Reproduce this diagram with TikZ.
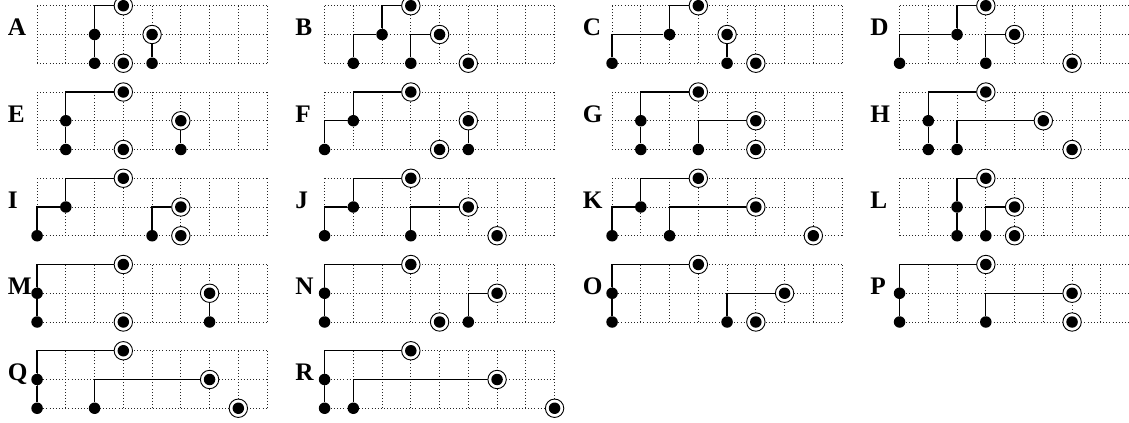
\documentclass[tikz,border=0pt]{standalone}
\usepackage{fontspec}
\setmainfont{Liberation Serif}
\usepackage{tikz}
\newcommand{\Gr}[1]{\draw[gridline] (0,0) grid (8,2);
        \node[lab] (lab#1) at (-1.03,0.95) {#1};}

\begin{document}
\begin{tikzpicture}[x=0.5cm,y=0.5cm,
        gridline/.style={dash pattern=on 0.45pt off 1.1pt,black!85,line width=0.45pt,step=0.5cm},
        lab/.style={anchor=base west,inner sep=0pt,font=\fontsize{12.5}{14}\selectfont\bfseries},
        knot/.style={circle,fill,inner sep=0pt,minimum size=0.2cm},
        leaf/.style={circle,draw,fill=white,inner sep=0pt,minimum size=0.32cm,line width=0.45pt,
            path picture={\fill[black] (path picture bounding box.center) circle (0.1cm);}},
        link/.style={semithick}]
        \useasboundingbox (-1.29,-12.51) rectangle (37.98,2.2);
        % row 1
        \begin{scope}
        \Gr{A}
        \node[knot] (a1) at (2,0) {};
        \node[knot] (a2) at (2,1) {};
        \node[leaf] (a3) at (3,2) {};
        \node[leaf] (a4) at (3,0) {};
        \node[knot] (a5) at (4,0) {};
        \node[leaf] (a6) at (4,1) {};
        \draw[link] (a1) -- (a2);
        \draw[link] (a2) |- (a3);
        \draw[link] (a5) -- (a6);
        \end{scope}
        \begin{scope}[shift={(10,0)}]
        \Gr{B}
        \node[knot] (b1) at (1,0) {};
        \node[knot] (b2) at (2,1) {};
        \node[leaf] (b3) at (3,2) {};
        \node[knot] (b4) at (3,0) {};
        \node[leaf] (b5) at (4,1) {};
        \node[leaf] (b6) at (5,0) {};
        \draw[link] (b1) |- (b2);
        \draw[link] (b2) |- (b3);
        \draw[link] (b4) |- (b5);
        \end{scope}
        \begin{scope}[shift={(20,0)}]
        \Gr{C}
        \node[knot] (c1) at (0,0) {};
        \node[knot] (c2) at (2,1) {};
        \node[leaf] (c3) at (3,2) {};
        \node[knot] (c4) at (4,0) {};
        \node[leaf] (c5) at (4,1) {};
        \node[leaf] (c6) at (5,0) {};
        \draw[link] (c1) |- (c2);
        \draw[link] (c2) |- (c3);
        \draw[link] (c4) -- (c5);
        \end{scope}
        \begin{scope}[shift={(30,0)}]
        \Gr{D}
        \node[knot] (d1) at (0,0) {};
        \node[knot] (d2) at (2,1) {};
        \node[leaf] (d3) at (3,2) {};
        \node[knot] (d4) at (3,0) {};
        \node[leaf] (d5) at (4,1) {};
        \node[leaf] (d6) at (6,0) {};
        \draw[link] (d1) |- (d2);
        \draw[link] (d2) |- (d3);
        \draw[link] (d4) |- (d5);
        \end{scope}
        % row 2
        \begin{scope}[shift={(0,-3)}]
        \Gr{E}
        \node[knot] (e1) at (1,0) {};
        \node[knot] (e2) at (1,1) {};
        \node[leaf] (e3) at (3,2) {};
        \node[leaf] (e4) at (3,0) {};
        \node[knot] (e5) at (5,0) {};
        \node[leaf] (e6) at (5,1) {};
        \draw[link] (e1) -- (e2);
        \draw[link] (e2) |- (e3);
        \draw[link] (e5) -- (e6);
        \end{scope}
        \begin{scope}[shift={(10,-3)}]
        \Gr{F}
        \node[knot] (f1) at (0,0) {};
        \node[knot] (f2) at (1,1) {};
        \node[leaf] (f3) at (3,2) {};
        \node[leaf] (f4) at (4,0) {};
        \node[knot] (f5) at (5,0) {};
        \node[leaf] (f6) at (5,1) {};
        \draw[link] (f1) |- (f2);
        \draw[link] (f2) |- (f3);
        \draw[link] (f5) -- (f6);
        \end{scope}
        \begin{scope}[shift={(20,-3)}]
        \Gr{G}
        \node[knot] (g1) at (1,0) {};
        \node[knot] (g2) at (1,1) {};
        \node[leaf] (g3) at (3,2) {};
        \node[knot] (g4) at (3,0) {};
        \node[leaf] (g5) at (5,1) {};
        \node[leaf] (g6) at (5,0) {};
        \draw[link] (g1) -- (g2);
        \draw[link] (g2) |- (g3);
        \draw[link] (g4) |- (g5);
        \end{scope}
        \begin{scope}[shift={(30,-3)}]
        \Gr{H}
        \node[knot] (h1) at (1,0) {};
        \node[knot] (h2) at (1,1) {};
        \node[leaf] (h3) at (3,2) {};
        \node[knot] (h4) at (2,0) {};
        \node[leaf] (h5) at (5,1) {};
        \node[leaf] (h6) at (6,0) {};
        \draw[link] (h1) -- (h2);
        \draw[link] (h2) |- (h3);
        \draw[link] (h4) |- (h5);
        \end{scope}
        % row 3
        \begin{scope}[shift={(0,-6)}]
        \Gr{I}
        \node[knot] (i1) at (0,0) {};
        \node[knot] (i2) at (1,1) {};
        \node[leaf] (i3) at (3,2) {};
        \node[knot] (i4) at (4,0) {};
        \node[leaf] (i5) at (5,1) {};
        \node[leaf] (i6) at (5,0) {};
        \draw[link] (i1) |- (i2);
        \draw[link] (i2) |- (i3);
        \draw[link] (i4) |- (i5);
        \end{scope}
        \begin{scope}[shift={(10,-6)}]
        \Gr{J}
        \node[knot] (j1) at (0,0) {};
        \node[knot] (j2) at (1,1) {};
        \node[leaf] (j3) at (3,2) {};
        \node[knot] (j4) at (3,0) {};
        \node[leaf] (j5) at (5,1) {};
        \node[leaf] (j6) at (6,0) {};
        \draw[link] (j1) |- (j2);
        \draw[link] (j2) |- (j3);
        \draw[link] (j4) |- (j5);
        \end{scope}
        \begin{scope}[shift={(20,-6)}]
        \Gr{K}
        \node[knot] (k1) at (0,0) {};
        \node[knot] (k2) at (1,1) {};
        \node[leaf] (k3) at (3,2) {};
        \node[knot] (k4) at (2,0) {};
        \node[leaf] (k5) at (5,1) {};
        \node[leaf] (k6) at (7,0) {};
        \draw[link] (k1) |- (k2);
        \draw[link] (k2) |- (k3);
        \draw[link] (k4) |- (k5);
        \end{scope}
        \begin{scope}[shift={(30,-6)}]
        \Gr{L}
        \node[knot] (l1) at (2,0) {};
        \node[knot] (l2) at (2,1) {};
        \node[leaf] (l3) at (3,2) {};
        \node[knot] (l4) at (3,0) {};
        \node[leaf] (l5) at (4,1) {};
        \node[leaf] (l6) at (4,0) {};
        \draw[link] (l1) -- (l2);
        \draw[link] (l2) |- (l3);
        \draw[link] (l4) |- (l5);
        \end{scope}
        % row 4
        \begin{scope}[shift={(0,-9)}]
        \Gr{M}
        \node[knot] (m1) at (0,0) {};
        \node[knot] (m2) at (0,1) {};
        \node[leaf] (m3) at (3,2) {};
        \node[leaf] (m4) at (3,0) {};
        \node[knot] (m5) at (6,0) {};
        \node[leaf] (m6) at (6,1) {};
        \draw[link] (m1) -- (m2);
        \draw[link] (m2) |- (m3);
        \draw[link] (m5) -- (m6);
        \end{scope}
        \begin{scope}[shift={(10,-9)}]
        \Gr{N}
        \node[knot] (n1) at (0,0) {};
        \node[knot] (n2) at (0,1) {};
        \node[leaf] (n3) at (3,2) {};
        \node[leaf] (n4) at (4,0) {};
        \node[knot] (n5) at (5,0) {};
        \node[leaf] (n6) at (6,1) {};
        \draw[link] (n1) -- (n2);
        \draw[link] (n2) |- (n3);
        \draw[link] (n5) |- (n6);
        \end{scope}
        \begin{scope}[shift={(20,-9)}]
        \Gr{O}
        \node[knot] (o1) at (0,0) {};
        \node[knot] (o2) at (0,1) {};
        \node[leaf] (o3) at (3,2) {};
        \node[knot] (o4) at (4,0) {};
        \node[leaf] (o5) at (6,1) {};
        \node[leaf] (o6) at (5,0) {};
        \draw[link] (o1) -- (o2);
        \draw[link] (o2) |- (o3);
        \draw[link] (o4) |- (o5);
        \end{scope}
        \begin{scope}[shift={(30,-9)}]
        \Gr{P}
        \node[knot] (p1) at (0,0) {};
        \node[knot] (p2) at (0,1) {};
        \node[leaf] (p3) at (3,2) {};
        \node[knot] (p4) at (3,0) {};
        \node[leaf] (p5) at (6,1) {};
        \node[leaf] (p6) at (6,0) {};
        \draw[link] (p1) -- (p2);
        \draw[link] (p2) |- (p3);
        \draw[link] (p4) |- (p5);
        \end{scope}
        % row 5
        \begin{scope}[shift={(0,-12)}]
        \Gr{Q}
        \node[knot] (q1) at (0,0) {};
        \node[knot] (q2) at (0,1) {};
        \node[leaf] (q3) at (3,2) {};
        \node[knot] (q4) at (2,0) {};
        \node[leaf] (q5) at (6,1) {};
        \node[leaf] (q6) at (7,0) {};
        \draw[link] (q1) -- (q2);
        \draw[link] (q2) |- (q3);
        \draw[link] (q4) |- (q5);
        \end{scope}
        \begin{scope}[shift={(10,-12)}]
        \Gr{R}
        \node[knot] (r1) at (0,0) {};
        \node[knot] (r2) at (0,1) {};
        \node[leaf] (r3) at (3,2) {};
        \node[knot] (r4) at (1,0) {};
        \node[leaf] (r5) at (6,1) {};
        \node[leaf] (r6) at (8,0) {};
        \draw[link] (r1) -- (r2);
        \draw[link] (r2) |- (r3);
        \draw[link] (r4) |- (r5);
        \end{scope}
    \end{tikzpicture}
\end{document}
